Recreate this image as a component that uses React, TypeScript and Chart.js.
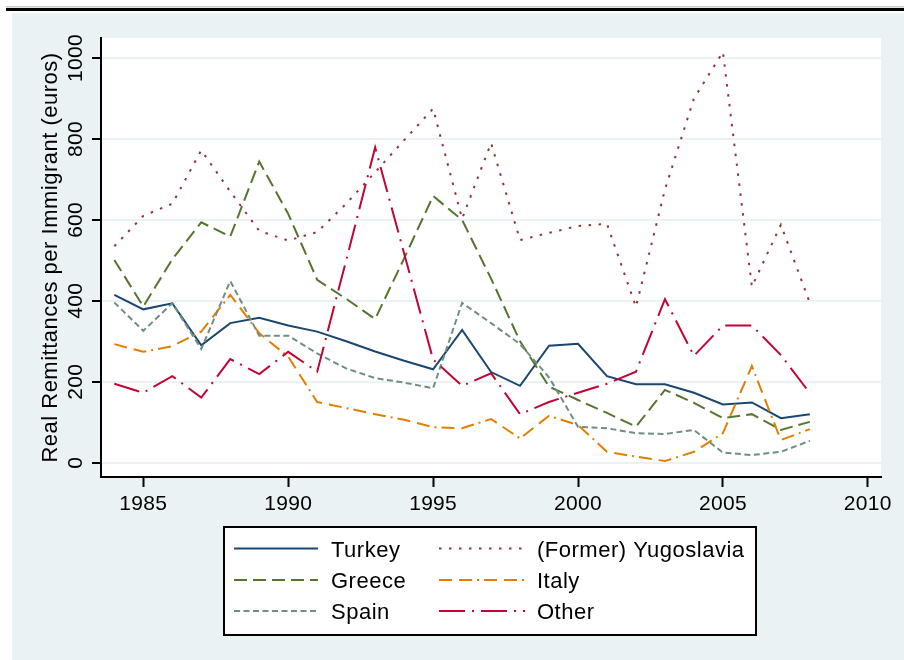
import React, { useEffect, useRef } from 'react';
import { Chart, registerables } from 'chart.js';

Chart.register(...registerables);

// ---- data ----
const years = [1984, 1985, 1986, 1987, 1988, 1989, 1990, 1991, 1992, 1993, 1994, 1995, 1996, 1997, 1998, 1999, 2000, 2001, 2002, 2003, 2004, 2005, 2006, 2007, 2008];
const turkey = [415, 379, 394, 290, 345, 358, 339, 324, 300, 275, 252, 231, 328, 224, 190, 289, 294, 214, 194, 194, 173, 144, 149, 110, 120];
const yugoslavia = [535, 610, 640, 772, 670, 573, 549, 570, 640, 718, 797, 875, 603, 790, 550, 568, 585, 590, 385, 675, 900, 1015, 435, 588, 395];
const greece = [501, 386, 503, 594, 559, 744, 615, 452, 405, 355, 505, 659, 600, 455, 300, 188, 155, 123, 89, 180, 148, 110, 120, 81, 101];
const italy = [293, 274, 288, 324, 415, 320, 262, 150, 135, 120, 106, 88, 85, 108, 60, 116, 93, 27, 15, 4, 27, 73, 239, 56, 83];
const spain = [396, 326, 394, 281, 449, 314, 314, 270, 233, 209, 198, 184, 395, 345, 293, 211, 89, 85, 73, 71, 81, 25, 19, 27, 54];
const other = [195, 173, 214, 161, 256, 219, 274, 225, 500, 779, 517, 255, 190, 221, 120, 150, 173, 195, 225, 404, 264, 339, 339, 266, 172];

const seriesNames = ['Turkey', '(Former) Yugoslavia', 'Greece', 'Italy', 'Spain', 'Other'];
const seriesValues = [turkey, yugoslavia, greece, italy, spain, other];
const xTickValues = [1985, 1990, 1995, 2000, 2005, 2010];
const yTickValues = [0, 200, 400, 600, 800, 1000];
const yTitle = 'Real Remittances per Immigrant (euros)';

// ---- styles ----
const BG = '#EAF2F3';
const seriesColors = ['#1A476F', '#90353B', '#55752F', '#E37E00', '#6E8E84', '#C10534'];
const seriesDashes: number[][] = [[], [2.5, 7.5], [13, 6], [13, 7, 13, 5, 2, 5], [6, 3.5], [26, 7, 2, 7]];
const TICK_FONT = "21px 'Liberation Sans', Arial, sans-serif";
const TEXT_FONT = "22px 'Liberation Sans', Arial, sans-serif";

const framePlugin = {
  id: 'stataFrame',
  beforeDraw(chart: any) {
    const { ctx, chartArea: a, width, height } = chart;
    ctx.save();
    ctx.fillStyle = '#ffffff';
    ctx.fillRect(0, 0, width, height);
    ctx.fillStyle = BG;
    ctx.fillRect(12, 13, width - 12, height - 13);
    ctx.fillStyle = '#c8c8c8';
    ctx.fillRect(6, 6, width - 6, 1.5);
    ctx.fillStyle = '#000000';
    ctx.fillRect(6, 8, width - 6, 3);
    ctx.fillStyle = '#ffffff';
    ctx.fillRect(a.left, a.top, a.right - a.left, a.bottom - a.top);
    ctx.restore();
  },
  afterDraw(chart: any) {
    const { ctx, chartArea: a } = chart;
    const xs = chart.scales.x;
    const ys = chart.scales.y;
    ctx.save();
    ctx.fillStyle = '#000000';
    // x tick labels
    ctx.font = TICK_FONT;
    (ctx as any).letterSpacing = '0.3px';
    ctx.textAlign = 'center';
    ctx.textBaseline = 'alphabetic';
    xs.ticks.forEach((t: any) => {
      ctx.fillText(String(t.value), xs.getPixelForValue(t.value), 510);
    });
    // y tick labels (rotated)
    ys.ticks.forEach((t: any) => {
      ctx.save();
      ctx.translate(82, ys.getPixelForValue(t.value));
      ctx.rotate(-Math.PI / 2);
      ctx.fillText(String(t.value), 0, 0);
      ctx.restore();
    });
    // y title
    ctx.font = TEXT_FONT;
    (ctx as any).letterSpacing = '0.5px';
    ctx.save();
    ctx.translate(57, (a.top + a.bottom) / 2);
    ctx.rotate(-Math.PI / 2);
    ctx.fillText(yTitle, 0, 0);
    ctx.restore();

    // legend
    const bx = 224, by = 527, bw = 532, bh = 108;
    ctx.fillStyle = '#ffffff';
    ctx.fillRect(bx, by, bw, bh);
    ctx.strokeStyle = '#000000';
    ctx.lineWidth = 2;
    ctx.strokeRect(bx, by, bw, bh);
    const colSample = [[234, 318], [439, 525]];
    const colText = [331, 537];
    const rowY = [548.5, 580, 611];
    chart.data.datasets.forEach((ds: any, i: number) => {
      const r = Math.floor(i / 2);
      const c = i % 2;
      const y = rowY[r];
      ctx.save();
      ctx.strokeStyle = ds.borderColor;
      ctx.lineWidth = 2;
      ctx.setLineDash(ds.borderDash || []);
      ctx.beginPath();
      ctx.moveTo(colSample[c][0], y);
      ctx.lineTo(colSample[c][1], y);
      ctx.stroke();
      ctx.restore();
      ctx.fillStyle = '#000000';
      ctx.textAlign = 'left';
      ctx.fillText(ds.label, colText[c], y + 8);
    });
    ctx.restore();
  },
};

export default function App() {
  const canvasRef = useRef<HTMLCanvasElement | null>(null);

  useEffect(() => {
    if (!canvasRef.current) return;
    const datasets = seriesNames.map((name, i) => ({
      label: name,
      data: years.map((yr, j) => ({ x: yr, y: seriesValues[i][j] })),
      borderColor: seriesColors[i],
      backgroundColor: seriesColors[i],
      borderDash: seriesDashes[i],
      borderWidth: 2,
      borderCapStyle: 'butt' as const,
      borderJoinStyle: 'miter' as const,
      pointRadius: 0,
      fill: false,
      tension: 0,
      order: seriesNames.length - i,
    }));
    const chart = new Chart(canvasRef.current, {
      type: 'line',
      data: { datasets },
      options: {
        animation: false,
        responsive: false,
        devicePixelRatio: 1,
        layout: { padding: { top: 38, right: 23, left: 0, bottom: 0 } },
        plugins: { legend: { display: false }, tooltip: { enabled: false } },
        scales: {
          x: {
            type: 'linear',
            min: 1983.54,
            max: 2010.455,
            afterBuildTicks: (s: any) => { s.ticks = xTickValues.map((v) => ({ value: v })); },
            afterFit: (s: any) => { s.height = 183; },
            ticks: { display: false },
            grid: { drawOnChartArea: false, drawTicks: true, tickLength: 10, tickWidth: 2, tickColor: '#000000' },
            border: { display: true, color: '#000000', width: 2 },
          },
          y: {
            type: 'linear',
            min: -35.3,
            max: 1049.5,
            afterBuildTicks: (s: any) => { s.ticks = yTickValues.map((v) => ({ value: v })); },
            afterFit: (s: any) => { s.width = 101; },
            ticks: { display: false },
            grid: { color: BG, lineWidth: 2, drawTicks: true, tickLength: 9, tickWidth: 2, tickColor: '#000000' },
            border: { display: true, color: '#000000', width: 2 },
          },
        },
      },
      plugins: [framePlugin],
    });
    return () => chart.destroy();
  }, []);

  return (
    <div style={{ position: 'fixed', left: 0, top: 0, width: 904, height: 660 }}>
      <canvas ref={canvasRef} width={904} height={660} style={{ width: 904, height: 660, display: 'block' }} />
    </div>
  );
}
